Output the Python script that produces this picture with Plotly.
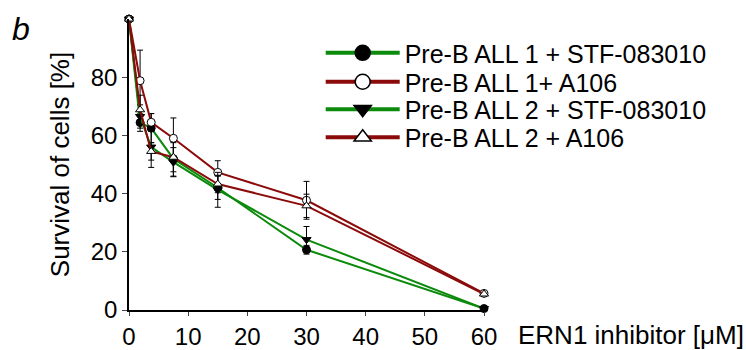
import plotly.graph_objects as go

conc = [0, 1.875, 3.75, 7.5, 15, 30, 60]
names = ["Pre-B ALL 1 + STF-083010", "Pre-B ALL 1+ A106",
         "Pre-B ALL 2 + STF-083010", "Pre-B ALL 2 + A106"]
s1 = [100, 64.4, 62.5, 52.0, 42.0, 20.7, 0.5]
s2 = [100, 78.8, 64.5, 59.0, 47.3, 37.7, 5.7]
s3 = [100, 66.5, 56.0, 50.8, 41.3, 24.2, 0.5]
s4 = [100, 68.8, 54.5, 52.5, 43.3, 35.8, 5.5]
e1 = [0, 3, 5, 6, 4, 1.5, 0.5]
e2 = [0, 10.5, 3, 7, 4, 6.5, 0.5]
e3 = [0, 4, 7, 5, 6, 4.5, 0.5]
e4 = [0, 5, 3, 5, 3, 4, 0.5]
xticks = [0, 10, 20, 30, 40, 50, 60]
yticks = [0, 20, 40, 60, 80]

GREEN = "#0b8a0b"
RED = "#8b0a0a"
series = [
    (s1, e1, GREEN, "circle", "black"),
    (s2, e2, RED, "circle", "white"),
    (s3, e3, GREEN, "triangle-down", "black"),
    (s4, e4, RED, "triangle-up", "white"),
]

FONT = "Liberation Sans, Arial"
fig = go.Figure()
for (ys, es, col, sym, fill), nm in zip(series, names):
    fig.add_trace(go.Scatter(
        x=conc, y=ys, mode="lines+markers", showlegend=False,
        line=dict(color=col, width=2),
        marker=dict(symbol=sym, size=8, color=fill, line=dict(color="black", width=1)),
        error_y=dict(type="data", array=es, color="black", thickness=1, width=3),
        cliponaxis=False,
    ))

legend_rows_y = [0.883, 0.7835, 0.689, 0.5925]
legend_keys = ["legend", "legend2", "legend3", "legend4"]
for i, ((ys, es, col, sym, fill), nm) in enumerate(zip(series, names)):
    fig.add_trace(go.Scatter(
        x=[None], y=[None], mode="lines+markers", name=nm, legend=legend_keys[i],
        line=dict(color=col, width=4),
        marker=dict(symbol=sym, size=15, color=fill, line=dict(color="black", width=1.5)),
    ))

layout_legends = {}
for i, key in enumerate(legend_keys):
    layout_legends[key] = dict(
        x=0.54, y=legend_rows_y[i], xref="paper", yref="paper",
        xanchor="left", yanchor="middle", itemwidth=74,
        font=dict(family=FONT, size=25, color="black"),
        bgcolor="rgba(0,0,0,0)", borderwidth=0,
    )

fig.update_layout(
    width=746, height=350,
    margin=dict(l=129, r=262, t=19, b=40, autoexpand=False),
    paper_bgcolor="white", plot_bgcolor="white",
    font=dict(family=FONT, size=24, color="black"),
    showlegend=True,
    xaxis=dict(range=[0, 60], tickvals=xticks, ticks="outside", ticklen=4,
               showline=True, linecolor="black", linewidth=1.5, showgrid=False,
               zeroline=False, tickfont=dict(size=24), automargin=False),
    yaxis=dict(range=[0, 100], tickvals=yticks, ticks="outside", ticklen=5,
               showline=True, linecolor="black", linewidth=1.5, showgrid=False,
               zeroline=False, tickfont=dict(size=24), automargin=False,
               title=dict(text="Survival of cells [%]", font=dict(size=26), standoff=14)),
    annotations=[
        dict(text="<i>b</i>", x=-0.335, y=1.0, xref="paper", yref="paper", showarrow=False,
             xanchor="left", yanchor="top", font=dict(size=32), yshift=10),
        dict(text="ERN1 inhibitor [μM]", x=1.0, y=0, xref="paper", yref="paper",
             xanchor="left", yanchor="top", showarrow=False, font=dict(size=26),
             xshift=32, yshift=-8),
    ],
    **layout_legends,
)
fig.write_html("out.html")
